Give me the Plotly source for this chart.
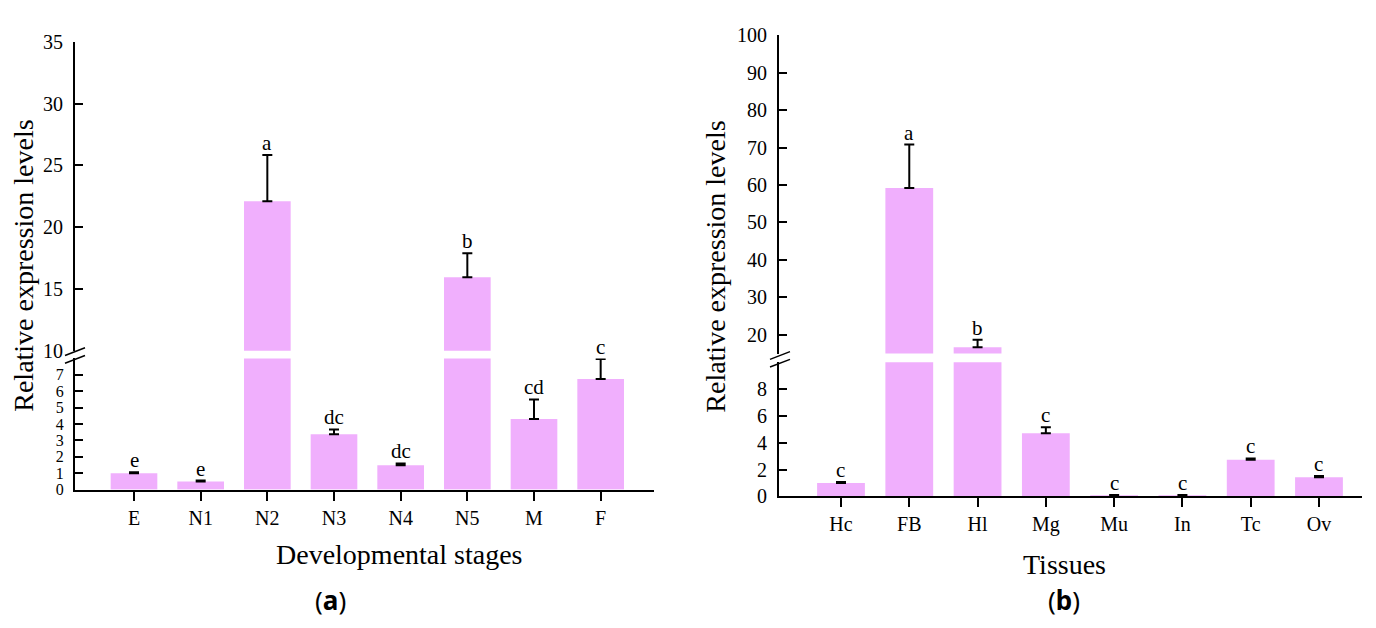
import plotly.graph_objects as go

W, H = 1376, 628

# ---------------- data ----------------
stages = ["E", "N1", "N2", "N3", "N4", "N5", "M", "F"]
stage_vals = [1.0, 0.5, 22.1, 3.37, 1.48, 15.94, 4.3, 6.75]
stage_err = [0.06, 0.05, 3.75, 0.3, 0.12, 1.95, 1.2, 1.22]
stage_letters = ["e", "e", "a", "dc", "dc", "b", "cd", "c"]

tissues = ["Hc", "FB", "Hl", "Mg", "Mu", "In", "Tc", "Ov"]
tissue_vals = [1.0, 59.2, 16.7, 4.7, 0.08, 0.07, 2.73, 1.42]
tissue_err = [0.08, 11.6, 2.0, 0.45, 0.03, 0.03, 0.1, 0.1]
tissue_letters = ["c", "a", "b", "c", "c", "c", "c", "c"]

a_lower_ticks = [0, 1, 2, 3, 4, 5, 6, 7]
a_upper_ticks = [10, 15, 20, 25, 30, 35]
b_lower_ticks = [0, 2, 4, 6, 8]
b_upper_ticks = [20, 30, 40, 50, 60, 70, 80, 90, 100]

# segment ranges
a_lower_range = [0, 8]
a_upper_range = [10, 35]
b_lower_range = [0, 10]
b_upper_range = [15, 100]

BAR = "#F0AFFD"
FONT = "Liberation Serif"


def px(x):
    return x / W


def py(y):
    return 1 - y / H


fig = go.Figure()


def add_bars(cats, vals, errs, xa, ya):
    fig.add_trace(go.Bar(
        x=cats, y=vals, xaxis=xa, yaxis=ya, width=0.7,
        marker=dict(color=BAR, line=dict(width=0)),
        error_y=dict(type="data", array=errs, arrayminus=[0] * len(errs),
                     symmetric=False, color="black", thickness=2, width=5),
        showlegend=False, hoverinfo="skip",
    ))


add_bars(stages, stage_vals, stage_err, "x", "y")
add_bars(stages, stage_vals, stage_err, "x2", "y2")
add_bars(tissues, tissue_vals, tissue_err, "x3", "y3")
add_bars(tissues, tissue_vals, tissue_err, "x4", "y4")


def tf(size):
    return dict(family=FONT, size=size, color="black")


common_y = dict(showline=True, linecolor="black", linewidth=2, ticks="inside",
                ticklen=8, tickwidth=2, tickcolor="black", showgrid=False,
                zeroline=False, ticklabelstandoff=6)
common_x = dict(showline=True, linecolor="black", linewidth=2, ticks="outside",
                ticklen=9, tickwidth=2, tickcolor="black", showgrid=False,
                zeroline=False, tickfont=tf(20), type="category")

a_dom = [px(75), px(654)]
b_dom = [px(779), px(1362)]

fig.update_layout(
    width=W, height=H, margin=dict(l=0, r=0, t=0, b=0),
    plot_bgcolor="white", paper_bgcolor="white", bargap=0.3,
    xaxis=dict(domain=a_dom, anchor="y", range=[-0.885, 7.8], **common_x),
    yaxis=dict(domain=[py(496), py(360)], anchor="x", range=a_lower_range,
               tickvals=a_lower_ticks, tickfont=tf(16), **common_y),
    xaxis2=dict(domain=a_dom, anchor="y2", range=[-0.885, 7.8], matches="x",
                visible=False, type="category"),
    yaxis2=dict(domain=[py(352), py(32)], anchor="x2", range=a_upper_range,
                tickvals=a_upper_ticks, tickfont=tf(20), **common_y),
    xaxis3=dict(domain=b_dom, anchor="y3", range=[-0.908, 7.63], **common_x),
    yaxis3=dict(domain=[py(503), py(364)], anchor="x3", range=b_lower_range,
                tickvals=b_lower_ticks, tickfont=tf(20), **common_y),
    xaxis4=dict(domain=b_dom, anchor="y4", range=[-0.908, 7.63], matches="x3",
                visible=False, type="category"),
    yaxis4=dict(domain=[py(355), py(25)], anchor="x4", range=b_upper_range,
                tickvals=b_upper_ticks, tickfont=tf(20), **common_y),
)

annotations = []


def add_letters(cats, vals, errs, letters, low_top, xl, yl, xu, yu):
    for c, v, e, t in zip(cats, vals, errs, letters):
        top = v + e
        if top > low_top + 0.01:
            xr, yr = xu, yu
        else:
            xr, yr = xl, yl
        annotations.append(dict(
            x=c, y=top, xref=xr, yref=yr, text=t, showarrow=False,
            yanchor="bottom", yshift=-2,
            font=dict(family=FONT, size=21, color="black")))


add_letters(stages, stage_vals, stage_err, stage_letters, a_lower_range[1], "x", "y", "x2", "y2")
add_letters(tissues, tissue_vals, tissue_err, tissue_letters, b_lower_range[1], "x3", "y3", "x4", "y4")

title_font = dict(family=FONT, size=28, color="black")
annotations += [
    dict(x=px(24), y=py(264), xref="paper", yref="paper", text="Relative expression levels",
         textangle=-90, showarrow=False, font=title_font, xanchor="center", yanchor="middle"),
    dict(x=px(716), y=py(265), xref="paper", yref="paper", text="Relative expression levels",
         textangle=-90, showarrow=False, font=title_font, xanchor="center", yanchor="middle"),
    dict(x=px(399), y=py(563), xref="paper", yref="paper", text="Developmental stages",
         showarrow=False, font=title_font, xanchor="center", yanchor="middle"),
    dict(x=px(1064), y=py(574), xref="paper", yref="paper", text="Tissues",
         showarrow=False, font=title_font, xanchor="center", yanchor="middle"),
    dict(x=px(330), y=py(610), xref="paper", yref="paper", text="(<b>a</b>)",
         showarrow=False, font=dict(family="Noto Sans", size=26, color="black"),
         xanchor="center", yanchor="middle"),
    dict(x=px(1064), y=py(610), xref="paper", yref="paper", text="(<b>b</b>)",
         showarrow=False, font=dict(family="Noto Sans", size=26, color="black"),
         xanchor="center", yanchor="middle"),
]
fig.update_layout(annotations=annotations)

# axis-break marks
shapes = []
for (x0, y0, x1, y1) in [(65, 357, 85, 349), (65, 365, 85, 357),
                         (770, 361, 790, 353), (770, 369, 790, 361)]:
    shapes.append(dict(type="line", xref="paper", yref="paper",
                       x0=px(x0), y0=py(y0), x1=px(x1), y1=py(y1),
                       line=dict(color="black", width=1.5)))
fig.update_layout(shapes=shapes)

fig.write_html("out.html")
